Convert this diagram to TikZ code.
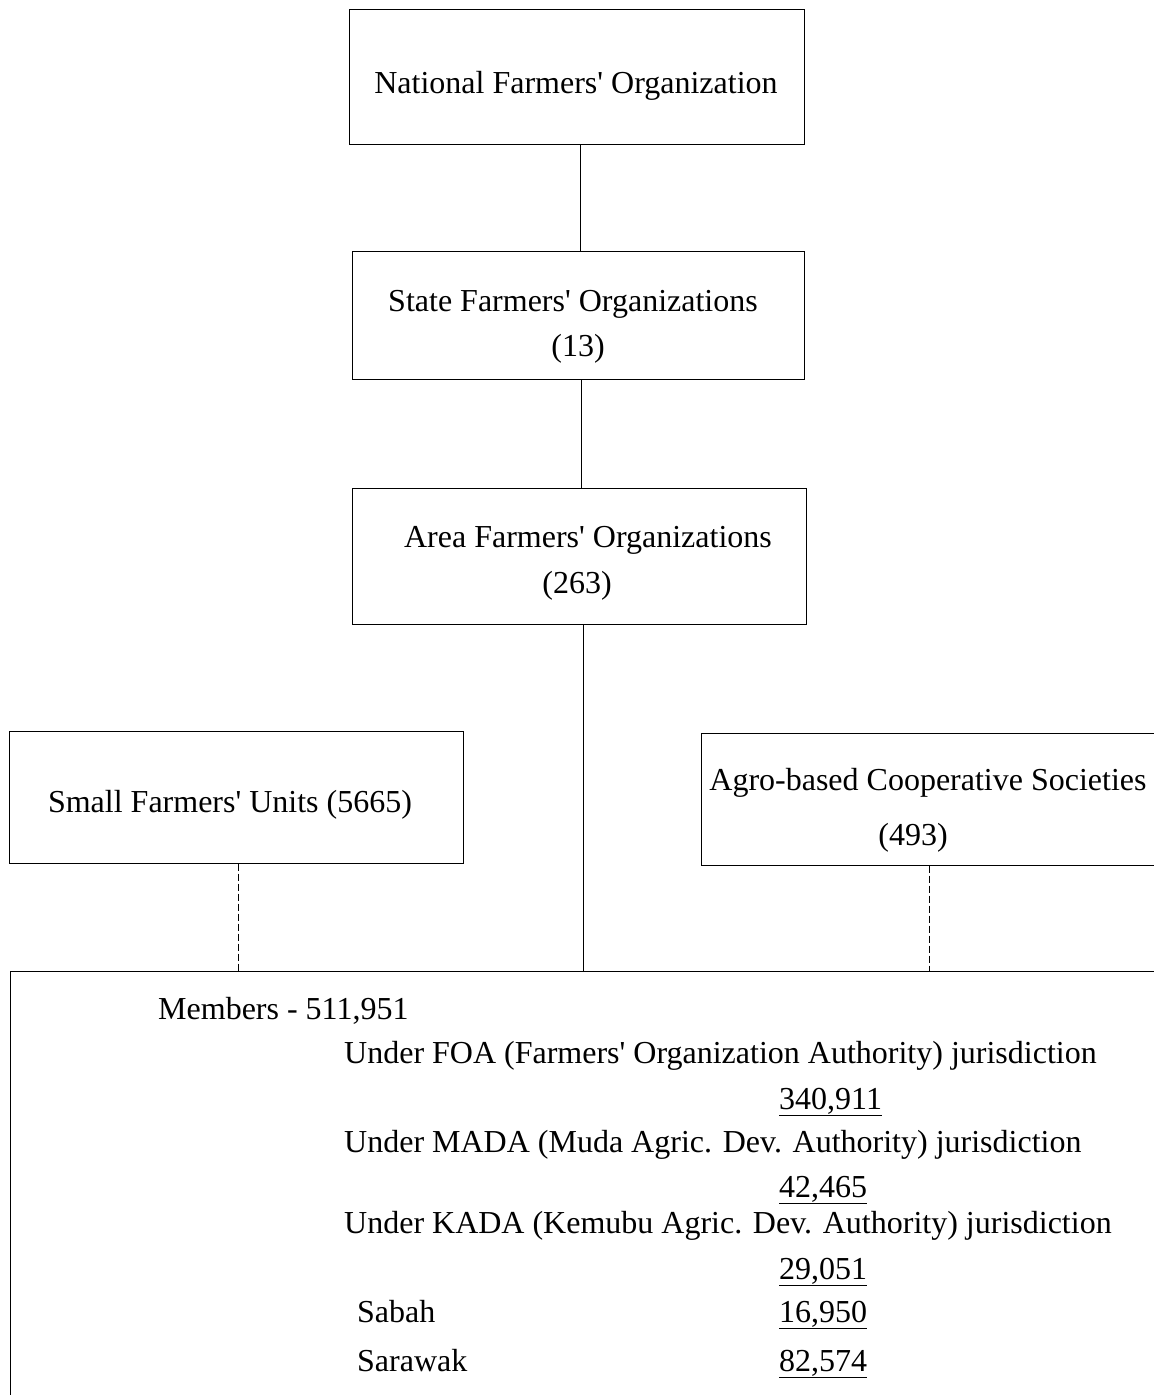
\documentclass[tikz,border=0pt]{standalone}
\usepackage{fontspec}
\setmainfont{Liberation Serif}
\newcommand{\q}{\textquotesingle}
\begin{document}
\begin{tikzpicture}[x=1pt,y=-1pt,
  box/.style={draw, line width=1pt, inner sep=0pt},
  txt/.style={inner sep=0pt, anchor=base, font=\fontsize{32}{38}\selectfont},
  ltxt/.style={inner sep=0pt, anchor=base west, font=\fontsize{32}{38}\selectfont},
  conn/.style={line width=1pt},
  dconn/.style={line width=1pt, dash pattern=on 7pt off 3pt}]
\useasboundingbox (0,0) rectangle (1154,1395);
\clip (0,0) rectangle (1154,1395);
\fill[white] (0,0) rectangle (1154,1395);

% boxes
\node[box, minimum width=455pt, minimum height=135pt] (nat) at (576.5,76.5) {};
\node[box, minimum width=452pt, minimum height=128pt] (state) at (578,315) {};
\node[box, minimum width=454pt, minimum height=136pt] (area) at (579,556) {};
\node[box, minimum width=454pt, minimum height=132pt] (small) at (236,797) {};
\node[box, minimum width=456pt, minimum height=132pt] (agro) at (929,799) {};
\node[box, minimum width=1170pt, minimum height=460pt] (members) at (595,1201) {};

% box texts
\node[txt] (natT) at (576,93) {National Farmers\q{} Organization};
\node[txt] (stateT1) at (573,311) {State Farmers\q{} Organizations};
\node[txt] (stateT2) at (578,356) {(13)};
\node[txt] (areaT1) at (588,547) {Area Farmers\q{} Organizations};
\node[txt] (areaT2) at (577,593) {(263)};
\node[txt] (smallT) at (230,812) {Small Farmers\q{} Units (5665)};
\node[txt] (agroT1) at (928,790) {Agro-based Cooperative Societies};
\node[txt] (agroT2) at (913,845) {(493)};

% connectors
\coordinate (c1) at ([xshift=3.5pt]nat.south);
\coordinate (c2) at ([xshift=3pt]state.south);
\coordinate (c3) at ([xshift=4pt]area.south);
\coordinate (d1) at ([xshift=2pt]small.south);
\coordinate (d2) at (agro.south);
\draw[conn] (c1) -- (c1 |- state.north);
\draw[conn] (c2) -- (c2 |- area.north);
\draw[conn] (c3) -- (c3 |- members.north);
\draw[dconn] (d1) -- (d1 |- members.north);
\draw[dconn] (d2) -- (d2 |- members.north);

% members text
\node[ltxt] (m0) at (158,1019) {Members - 511,951};
\node[ltxt] (m1) at (344,1063) {Under FOA (Farmers\q{} Organization Authority) jurisdiction};
\node[ltxt] (m1n) at (779,1109) {\underline{340,911}};
\node[ltxt] (m2) at (344,1152) {Under MADA (Muda Agric. Dev. Authority) jurisdiction};
\node[ltxt] (m2n) at (779,1197) {\underline{42,465}};
\node[ltxt] (m3) at (344,1233) {Under KADA (Kemubu Agric. Dev. Authority) jurisdiction};
\node[ltxt] (m3n) at (779,1279) {\underline{29,051}};
\node[ltxt] (m4) at (357,1322) {Sabah};
\node[ltxt] (m4n) at (779,1322) {\underline{16,950}};
\node[ltxt] (m5) at (357,1371) {Sarawak};
\node[ltxt] (m5n) at (779,1371) {\underline{82,574}};
\end{tikzpicture}
\end{document}
